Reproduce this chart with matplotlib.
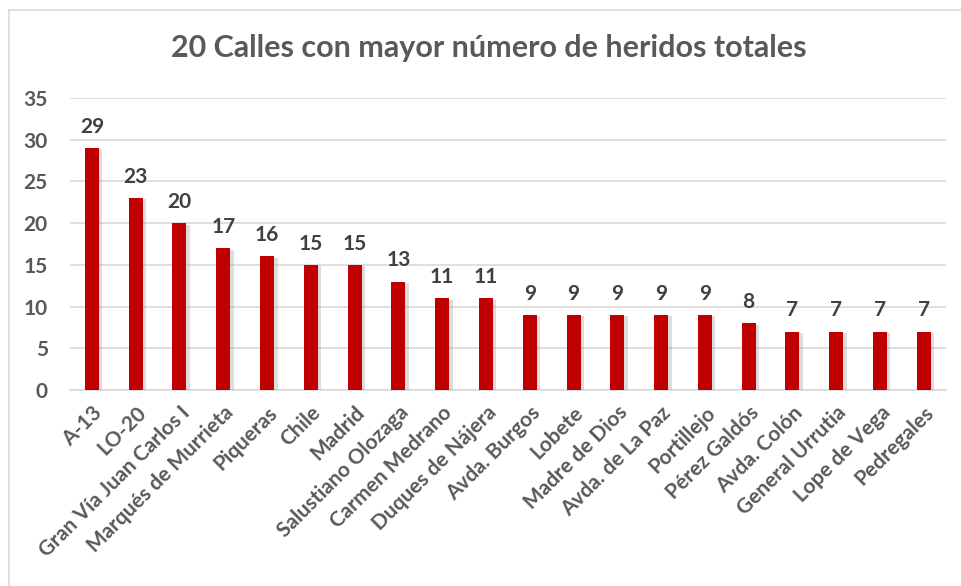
import matplotlib.pyplot as plt
import matplotlib.patheffects as pe
from matplotlib.lines import Line2D

plt.rcParams['font.family'] = ['Lato', 'DejaVu Sans']

calles = ['A-13', 'LO-20', 'Gran Vía Juan Carlos I', 'Marqués de Murrieta',
          'Piqueras', 'Chile', 'Madrid', 'Salustiano Olozaga', 'Carmen Medrano',
          'Duques de Nájera', 'Avda. Burgos', 'Lobete', 'Madre de Dios',
          'Avda. de La Paz', 'Portillejo', 'Pérez Galdós', 'Avda. Colón',
          'General Urrutia', 'Lope de Vega', 'Pedregales']
heridos = [29, 23, 20, 17, 16, 15, 15, 13, 11, 11, 9, 9, 9, 9, 9, 8, 7, 7, 7, 7]

fig = plt.figure(figsize=(9.62, 5.86), dpi=100)
ax = fig.add_axes([0.0728, 0.3345, 0.9102, 0.4983])

x = range(len(calles))
bars = ax.bar(x, heridos, width=0.32, color='#C00000', zorder=3)
for b in bars:
    b.set_path_effects([pe.SimplePatchShadow(offset=(2.5, -1), shadow_rgbFace='#909090', alpha=0.3),
                        pe.Normal()])

for xi, v in zip(x, heridos):
    ax.annotate(str(v), (xi, v), xytext=(0, 8), textcoords='offset points',
                ha='center', va='bottom', fontsize=15, fontweight='bold', color='#404040')

ax.set_xlim(-0.5, len(calles) - 0.5)
ax.set_ylim(0, 35)
ax.set_yticks(range(0, 36, 5))
ax.yaxis.grid(True, color='#d9d9d9', linewidth=1.2, zorder=0)
ax.set_axisbelow(True)
for s in ['top', 'right', 'left']:
    ax.spines[s].set_visible(False)
ax.spines['bottom'].set_color('#d9d9d9')
ax.spines['bottom'].set_linewidth(1.2)
ax.tick_params(axis='both', length=0, colors='#595959', labelsize=15)
ax.tick_params(axis='y', pad=16)
ax.tick_params(axis='x', pad=9)
ax.set_xticks(list(x))
ax.set_xticklabels(calles, rotation=45, ha='right', rotation_mode='anchor',
                   fontweight='bold')
for lbl in ax.get_yticklabels():
    lbl.set_fontweight('bold')

fig.text(0.508, 0.918, '20 Calles con mayor número de heridos totales',
         ha='center', va='center', fontsize=22, fontweight='bold', color='#595959')

# thin chart-area frame on top and left
fig.add_artist(Line2D([9 / 962, 1], [1 - 10 / 586, 1 - 10 / 586], color='#d9d9d9', lw=1.2))
fig.add_artist(Line2D([9 / 962, 9 / 962], [0, 1 - 10 / 586], color='#d9d9d9', lw=1.2))

fig.savefig('out.png', dpi=100)
